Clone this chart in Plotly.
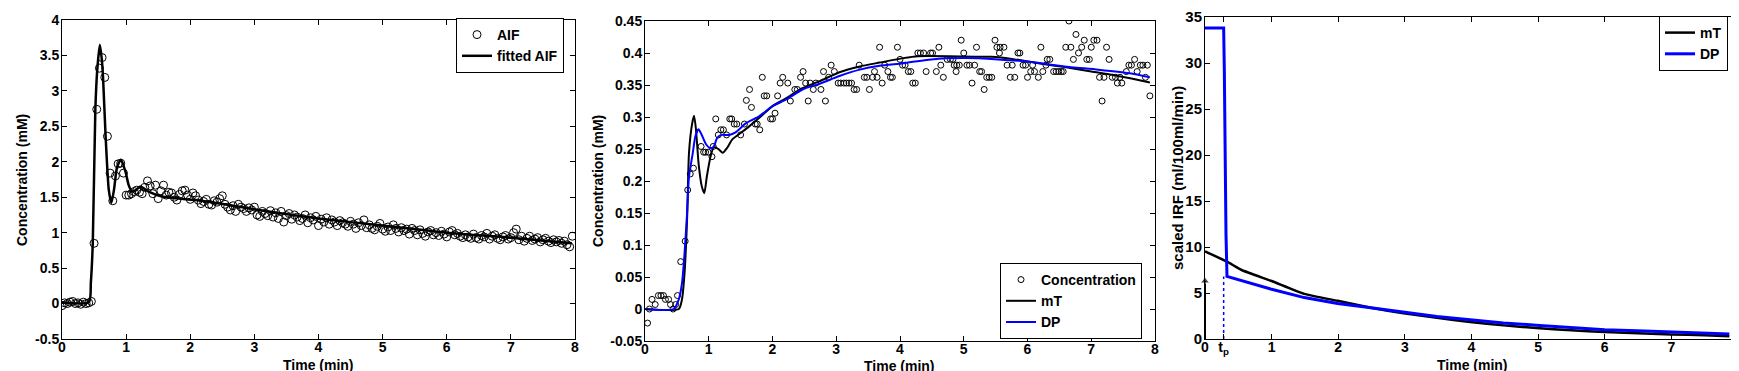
import plotly.graph_objects as go

# ---------------- data ----------------
# Panel 1: measured AIF (sampled every 2.5 s) and fitted AIF
AIF_V = [
    -0.03, 0.01, 0.00, 0.02, 0.03, 0.00, 0.01, -0.01, 0.02, 0.00, 0.01, 0.03,
    0.85, 2.74, 3.32, 3.47, 3.19, 2.36, 1.84, 1.45, 1.80, 1.97, 1.98, 1.84, 1.53,
    1.53, 1.55, 1.58, 1.60, 1.57, 1.55, 1.64, 1.73, 1.66, 1.55, 1.67, 1.48,
    1.59, 1.67, 1.53, 1.57, 1.56, 1.50, 1.46, 1.54, 1.59, 1.60, 1.53, 1.47,
    1.56, 1.52, 1.46, 1.41, 1.44, 1.47, 1.40, 1.39, 1.45, 1.43, 1.48, 1.52,
    1.40, 1.36, 1.32, 1.38, 1.30, 1.40, 1.36, 1.34, 1.30, 1.35, 1.32, 1.36,
    1.25, 1.23, 1.30, 1.27, 1.24, 1.31, 1.22, 1.28, 1.20, 1.30, 1.15, 1.24,
    1.27, 1.19, 1.25, 1.22, 1.17, 1.20, 1.25, 1.14, 1.21, 1.18, 1.23, 1.10,
    1.19, 1.15, 1.21, 1.12, 1.18, 1.15, 1.10, 1.17, 1.14, 1.12, 1.09, 1.16,
    1.12, 1.06, 1.14, 1.10, 1.18, 1.07, 1.11, 1.06, 1.04, 1.09, 1.13, 1.05,
    1.02, 1.08, 1.03, 1.11, 1.06, 1.01, 1.07, 1.03, 1.05, 0.98, 1.06, 1.03,
    0.97, 1.04, 0.99, 0.95, 1.01, 1.03, 0.97, 1.00, 0.96, 1.02, 0.98, 0.94,
    1.01, 1.03, 0.97, 0.99, 0.95, 0.93, 0.97, 0.94, 0.92, 0.98, 0.93, 0.91,
    0.96, 0.94, 0.99, 0.91, 0.95, 0.97, 0.92, 0.90, 0.94, 0.96, 0.91, 0.93,
    1.00, 1.05, 0.90, 0.95, 0.88, 0.92, 0.95, 0.89, 0.91, 0.93, 0.87, 0.90,
    0.92, 0.88, 0.86, 0.90, 0.87, 0.89, 0.85, 0.88, 0.83, 0.80, 0.95,
]
SAMPLE_INTERVAL_MIN = 2.5 / 60
AIF_T = [round(i * SAMPLE_INTERVAL_MIN, 4) for i in range(len(AIF_V))]

FIT_T = [0, 0.42, 0.45, 0.48, 0.52, 0.55, 0.59, 0.62, 0.64, 0.68,
         0.73, 0.77, 0.81, 0.86, 0.92, 0.99, 1.04, 1.09, 1.15, 1.22,
         1.35, 1.56, 2.08, 2.6, 3.07, 4.0, 5.0, 6.0, 7.0, 7.95]
FIT_V = [0.02, 0.02, 0.3, 0.85, 2.74, 3.3, 3.65, 3.45, 3.19, 2.36,
         1.6, 1.42, 1.6, 1.93, 2.03, 1.86, 1.67, 1.58, 1.6, 1.65,
         1.58, 1.51, 1.46, 1.39, 1.32, 1.2, 1.1, 1.0, 0.93, 0.85]

# Panel 2: tissue concentration and the two model fits
CONC_T = [0.04, 0.07, 0.11, 0.16, 0.21, 0.25, 0.29, 0.32, 0.37, 0.40, 0.44, 0.48,
          0.51, 0.56, 0.63, 0.67, 0.71, 0.76, 0.88, 0.92, 0.95, 0.99, 1.05, 1.07,
          1.11, 1.15, 1.19, 1.23, 1.28, 1.33, 1.36, 1.40, 1.44, 1.50, 1.56, 1.59,
          1.64, 1.67, 1.73, 1.76, 1.80, 1.84, 1.87, 1.91, 1.97, 2.00, 2.04, 2.08,
          2.12, 2.16, 2.24, 2.28, 2.35, 2.39, 2.44, 2.48, 2.52, 2.56, 2.59, 2.64,
          2.68, 2.76, 2.80, 2.83, 2.88, 2.92, 2.97, 3.03, 3.07, 3.12, 3.16, 3.20,
          3.24, 3.28, 3.32, 3.36, 3.44, 3.48, 3.52, 3.57, 3.60, 3.64, 3.68, 3.72,
          3.76, 3.81, 3.85, 3.88, 3.96, 4.00, 4.04, 4.08, 4.13, 4.17, 4.20, 4.24,
          4.28, 4.32, 4.37, 4.41, 4.48, 4.51, 4.57, 4.61, 4.64, 4.68, 4.74, 4.79,
          4.83, 4.85, 4.88, 4.89, 4.93, 4.96, 5.00, 5.05, 5.09, 5.13, 5.17, 5.20,
          5.25, 5.28, 5.32, 5.36, 5.40, 5.44, 5.49, 5.52, 5.56, 5.57, 5.63, 5.68,
          5.73, 5.76, 5.80, 5.85, 5.88, 5.93, 5.97, 6.00, 6.05, 6.08, 6.11, 6.17,
          6.21, 6.24, 6.29, 6.31, 6.35, 6.41, 6.45, 6.49, 6.53, 6.56, 6.60, 6.65,
          6.68, 6.72, 6.76, 6.80, 6.85, 6.89, 6.93, 6.97, 7.00, 7.04, 7.09, 7.13,
          7.17, 7.20, 7.24, 7.28, 7.33, 7.38, 7.41, 7.45, 7.48, 7.55, 7.59, 7.63,
          7.68, 7.72, 7.77, 7.81, 7.85, 7.88, 7.92]
CONC_V = [-0.022, 0.0, 0.015, 0.007, 0.021, 0.021, 0.021, 0.015, 0.015, 0.007, 0.0, 0.007,
          0.021, 0.074, 0.106, 0.186, 0.211, 0.22, 0.254, 0.245, 0.245, 0.245, 0.238, 0.254,
          0.297, 0.272, 0.28, 0.28, 0.272, 0.297, 0.297, 0.289, 0.289, 0.272, 0.289, 0.326,
          0.343, 0.315, 0.289, 0.289, 0.28, 0.362, 0.333, 0.333, 0.297, 0.297, 0.306, 0.333,
          0.353, 0.362, 0.353, 0.325, 0.343, 0.343, 0.362, 0.371, 0.353, 0.325, 0.353, 0.343,
          0.353, 0.343, 0.371, 0.325, 0.362, 0.381, 0.371, 0.353, 0.353, 0.353, 0.353, 0.353,
          0.353, 0.343, 0.343, 0.381, 0.362, 0.362, 0.343, 0.362, 0.371, 0.362, 0.409, 0.353,
          0.381, 0.371, 0.362, 0.362, 0.409, 0.39, 0.381, 0.381, 0.371, 0.371, 0.353, 0.353,
          0.40, 0.40, 0.40, 0.371, 0.40, 0.40, 0.371, 0.409, 0.381, 0.362, 0.39, 0.39,
          0.39, 0.381, 0.371, 0.381, 0.381, 0.42, 0.40, 0.381, 0.381, 0.353, 0.381, 0.409,
          0.371, 0.371, 0.343, 0.362, 0.362, 0.362, 0.42, 0.409, 0.40, 0.409, 0.409, 0.381,
          0.362, 0.381, 0.362, 0.40, 0.40, 0.381, 0.381, 0.362, 0.371, 0.381, 0.371, 0.362,
          0.409, 0.371, 0.381, 0.39, 0.39, 0.371, 0.371, 0.371, 0.371, 0.371, 0.409, 0.45,
          0.409, 0.39, 0.429, 0.40, 0.409, 0.42, 0.39, 0.39, 0.409, 0.42, 0.42, 0.362,
          0.325, 0.362, 0.409, 0.39, 0.362, 0.362, 0.353, 0.362, 0.353, 0.371, 0.381, 0.381,
          0.39, 0.371, 0.381, 0.381, 0.362, 0.381, 0.333]

MT_T = [0, 0.53, 0.58, 0.62, 0.66, 0.69, 0.74, 0.77, 0.80, 0.84,
        0.89, 0.93, 0.97, 1.03, 1.08, 1.15, 1.22, 1.29, 1.37, 1.5,
        1.63, 1.82, 2.0, 2.21, 2.47, 2.74, 3.05, 3.37, 3.68, 4.05,
        4.28, 4.75, 5.17, 5.43, 5.8, 6.17, 6.58, 7.0, 7.32, 7.63, 7.92]
MT_V = [0, 0, 0.015, 0.056, 0.14, 0.244, 0.29, 0.302, 0.28, 0.228,
        0.192, 0.181, 0.207, 0.239, 0.253, 0.25, 0.244, 0.252, 0.265, 0.275,
        0.285, 0.301, 0.317, 0.329, 0.345, 0.356, 0.37, 0.379, 0.385, 0.392,
        0.395, 0.395, 0.394, 0.394, 0.39, 0.384, 0.378, 0.371, 0.366, 0.36, 0.354]

DP_T = [0, 0.45, 0.53, 0.58, 0.62, 0.66, 0.69, 0.75, 0.79, 0.84,
        0.89, 0.96, 1.03, 1.08, 1.13, 1.2, 1.32, 1.42, 1.58, 1.79,
        2.0, 2.21, 2.47, 2.74, 3.05, 3.37, 3.68, 4.05, 4.49, 5.0,
        5.54, 6.06, 6.58, 7.11, 7.63, 7.92]
DP_V = [0, 0, 0.015, 0.04, 0.087, 0.15, 0.207, 0.244, 0.27, 0.281,
        0.272, 0.257, 0.251, 0.254, 0.267, 0.272, 0.272, 0.276, 0.29, 0.301,
        0.317, 0.327, 0.343, 0.352, 0.364, 0.374, 0.38, 0.384, 0.39, 0.392,
        0.39, 0.386, 0.379, 0.374, 0.368, 0.362]

# Panel 3: scaled impulse response functions
IRF_MT_T = [0, 0.33, 0.55, 1.0, 1.49, 1.99, 2.49, 2.98, 3.48, 3.98,
            4.48, 4.97, 5.5, 6.0, 6.6, 7.0, 7.5, 7.87]
IRF_MT_V = [9.53, 8.4, 7.5, 6.3, 4.9, 4.15, 3.4, 2.8, 2.3, 1.85,
            1.48, 1.2, 0.95, 0.76, 0.6, 0.5, 0.4, 0.3]
IRF_DP_T = [0, 0.28, 0.29, 0.30, 0.315, 0.33, 1.0, 1.49, 1.99, 2.49,
            2.98, 3.48, 3.98, 4.48, 4.97, 5.5, 6.0, 6.6, 7.0, 7.5, 7.87]
IRF_DP_V = [33.8, 33.8, 29.3, 20.3, 11.4, 6.8, 5.4, 4.5, 3.85, 3.4,
            2.95, 2.45, 2.1, 1.75, 1.5, 1.22, 1.0, 0.88, 0.78, 0.65, 0.54]
TP = 0.28            # time of the DP plateau end (t_p)
DP_AT_TP = 6.8       # DP IRF value just after t_p
MT_ARROW_TOP = 6.3   # centre of the arrow head of the delta at t = 0

# tick labels
X_TICKS = [0, 1, 2, 3, 4, 5, 6, 7, 8]
X_TICK_TEXT = ["0", "1", "2", "3", "4", "5", "6", "7", "8"]
Y1_TICKS = [-0.5, 0, 0.5, 1, 1.5, 2, 2.5, 3, 3.5, 4]
Y1_TICK_TEXT = ["-0.5", "0", "0.5", "1", "1.5", "2", "2.5", "3", "3.5", "4"]
Y2_TICKS = [-0.05, 0, 0.05, 0.1, 0.15, 0.2, 0.25, 0.3, 0.35, 0.4, 0.45]
Y2_TICK_TEXT = ["-0.05", "0", "0.05", "0.1", "0.15", "0.2", "0.25", "0.3", "0.35", "0.4", "0.45"]
X3_TICKS = [0, TP, 1, 2, 3, 4, 5, 6, 7, 8]
X3_TICK_TEXT = ["0", "t<sub>p</sub>", "1", "2", "3", "4", "5", "6", "7", "8"]
Y3_TICKS = [0, 5, 10, 15, 20, 25, 30, 35]
Y3_TICK_TEXT = ["0", "5", "10", "15", "20", "25", "30", "35"]

X_TITLE = "Time (min)"
Y1_TITLE = "Concentration (mM)"
Y2_TITLE = "Concentration (mM)"
Y3_TITLE = "scaled IRF (ml/100ml/min)"

# ---------------- figure ----------------
W, H = 1739, 371
FONT = "Liberation Sans, Arial, sans-serif"
BLUE = "#0000FF"


def dx(a, b):
    return [a / W, b / W]


def dy(top, bottom):
    return [(H - bottom) / H, (H - top) / H]


fig = go.Figure()

fig.add_trace(go.Scatter(
    x=AIF_T, y=AIF_V, mode="markers", name="AIF",
    marker=dict(symbol="circle-open", size=8, color="black", line=dict(width=1)),
    xaxis="x", yaxis="y", legend="legend"))
fig.add_trace(go.Scatter(
    x=FIT_T, y=FIT_V, mode="lines", name="fitted AIF",
    line=dict(color="black", width=2.5, shape="spline", smoothing=0.6),
    xaxis="x", yaxis="y", legend="legend"))

fig.add_trace(go.Scatter(
    x=CONC_T, y=CONC_V, mode="markers", name="Concentration",
    marker=dict(symbol="circle-open", size=6, color="black", line=dict(width=1)),
    xaxis="x2", yaxis="y2", legend="legend2"))
fig.add_trace(go.Scatter(
    x=MT_T, y=MT_V, mode="lines", name="mT",
    line=dict(color="black", width=2, shape="spline", smoothing=0.6),
    xaxis="x2", yaxis="y2", legend="legend2"))
fig.add_trace(go.Scatter(
    x=DP_T, y=DP_V, mode="lines", name="DP",
    line=dict(color=BLUE, width=2, shape="spline", smoothing=0.6),
    xaxis="x2", yaxis="y2", legend="legend2"))

fig.add_trace(go.Scatter(
    x=IRF_MT_T, y=IRF_MT_V, mode="lines", name="mT",
    line=dict(color="black", width=2.5, shape="spline", smoothing=0.5),
    xaxis="x3", yaxis="y3", legend="legend3"))
fig.add_trace(go.Scatter(
    x=IRF_DP_T, y=IRF_DP_V, mode="lines", name="DP",
    line=dict(color=BLUE, width=3),
    xaxis="x3", yaxis="y3", legend="legend3"))
fig.add_trace(go.Scatter(
    x=[TP, TP], y=[0, DP_AT_TP], mode="lines", showlegend=False,
    line=dict(color=BLUE, width=1.5, dash="dot"),
    xaxis="x3", yaxis="y3", hoverinfo="skip"))
# delta (arrow) of the mT IRF at t = 0
fig.add_trace(go.Scatter(
    x=[0, 0], y=[0, MT_ARROW_TOP], mode="lines+markers", showlegend=False,
    line=dict(color="black", width=2),
    marker=dict(symbol="triangle-up", size=[0, 8], color="black"),
    cliponaxis=False, xaxis="x3", yaxis="y3", hoverinfo="skip"))

tickfont = dict(family=FONT, size=14, color="black", weight="bold")

common_axis = dict(
    showline=True, linecolor="black", linewidth=1, mirror="ticks",
    ticks="inside", ticklen=5, tickcolor="black", tickwidth=1,
    showgrid=False, zeroline=False, automargin=False,
    tickmode="array", tickfont=tickfont, ticklabeloverflow="allow",
)
xcommon = dict(common_axis, ticklabelstandoff=-5)
ycommon = dict(common_axis, ticklabelstandoff=-1)


def title_ann(text, px, py, angle=0, size=14):
    return dict(text=text, xref="paper", yref="paper", x=px / W, y=(H - py) / H,
                xanchor="center", yanchor="middle", showarrow=False, textangle=angle,
                font=dict(family=FONT, size=size, color="black", weight="bold"))


legend_common = dict(bordercolor="black", borderwidth=1, bgcolor="white",
                     font=dict(family=FONT, size=14, color="black", weight="bold"),
                     itemwidth=30, tracegroupgap=0)

fig.update_layout(
    width=W, height=H,
    margin=dict(l=0, r=0, t=0, b=0),
    paper_bgcolor="white", plot_bgcolor="white",
    font=dict(family=FONT, size=14, color="black"),
    xaxis=dict(xcommon, domain=dx(54, 567), range=[0, 8], anchor="y",
               tickvals=X_TICKS, ticktext=X_TICK_TEXT),
    yaxis=dict(ycommon, domain=dy(12, 331), range=[-0.5, 4], anchor="x",
               tickvals=Y1_TICKS, ticktext=Y1_TICK_TEXT),
    xaxis2=dict(xcommon, domain=dx(637, 1147), range=[0, 8], anchor="y2",
                tickvals=X_TICKS, ticktext=X_TICK_TEXT),
    yaxis2=dict(ycommon, domain=dy(13, 333), range=[-0.05, 0.45], anchor="x2",
                tickvals=Y2_TICKS, ticktext=Y2_TICK_TEXT),
    xaxis3=dict(xcommon, domain=dx(1197, 1730), range=[0, 8], anchor="y3",
                tickvals=X3_TICKS, ticktext=X3_TICK_TEXT),
    yaxis3=dict(ycommon, domain=dy(9, 331), range=[0, 35], anchor="x3",
                tickvals=Y3_TICKS, ticktext=Y3_TICK_TEXT,
                tickfont=dict(tickfont, size=15)),
    legend=dict(legend_common, x=556 / W, y=(H - 10) / H, xanchor="right", yanchor="top"),
    legend2=dict(legend_common, x=1134 / W, y=(H - 331) / H, xanchor="right", yanchor="bottom"),
    legend3=dict(legend_common, x=1720 / W, y=(H - 8) / H, xanchor="right", yanchor="top"),
    annotations=[
        title_ann(X_TITLE, 310, 357),
        title_ann(X_TITLE, 892, 358),
        title_ann(X_TITLE, 1464, 357),
        title_ann(Y1_TITLE, 14, 172, angle=-90),
        title_ann(Y2_TITLE, 590, 173, angle=-90),
        title_ann(Y3_TITLE, 1169, 170, angle=-90, size=15),
    ],
)

fig.write_html("out.html")
